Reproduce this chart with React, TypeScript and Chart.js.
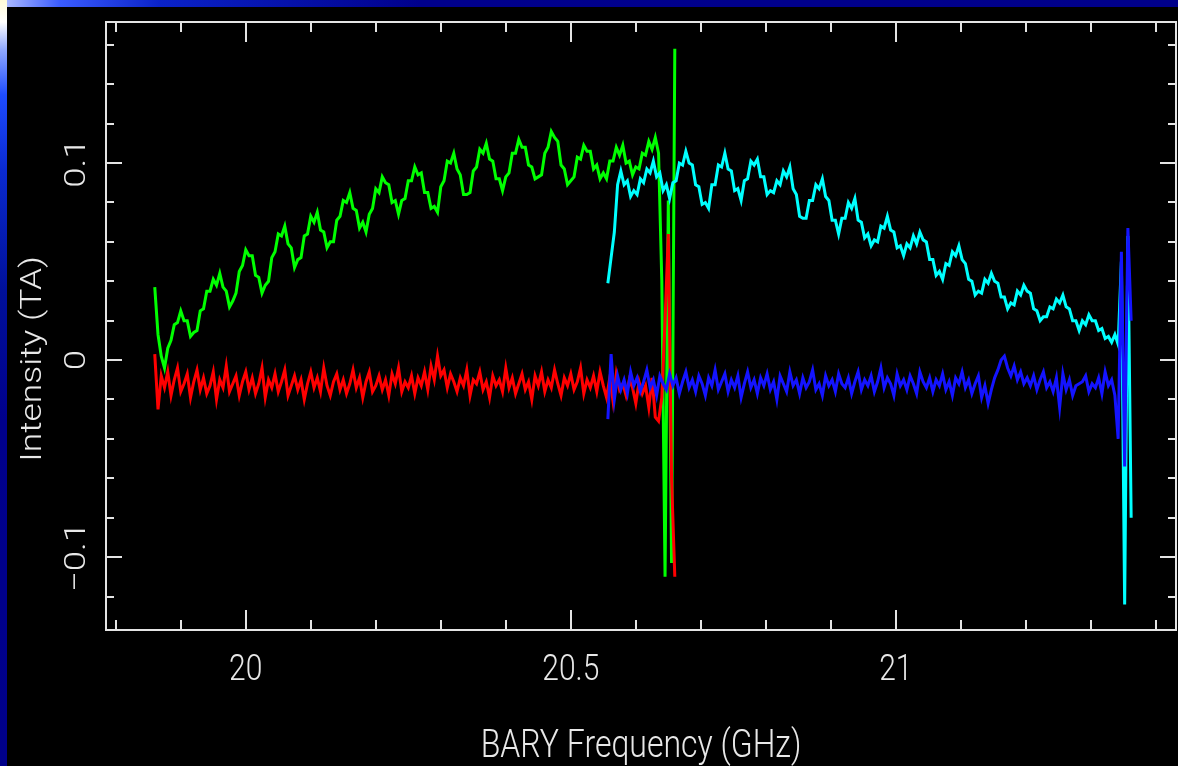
import React, { useEffect, useRef } from 'react';
import { Chart, registerables } from 'chart.js';

Chart.register(...registerables);

// ---- channel grids (GHz) ----
const LOW_BAND_START = 19.86; // first channel of the green / red spectra
const HIGH_BAND_START = 20.557; // first channel of the cyan / blue spectra
const CHANNEL_STEP = 0.005;

// ---- series values (TA) ----
const greenValues = [
  0.037, 0.013, 0.002, -0.004, 0.006, 0.010, 0.018, 0.019, 0.025, 0.020,
  0.020, 0.012, 0.014, 0.015, 0.025, 0.026, 0.035, 0.035, 0.041, 0.038,
  0.044, 0.037, 0.035, 0.027, 0.030, 0.034, 0.045, 0.048, 0.056, 0.053,
  0.053, 0.043, 0.042, 0.034, 0.038, 0.040, 0.052, 0.055, 0.064, 0.063,
  0.068, 0.059, 0.057, 0.047, 0.051, 0.052, 0.063, 0.064, 0.073, 0.070,
  0.075, 0.066, 0.065, 0.057, 0.060, 0.060, 0.071, 0.073, 0.081, 0.080,
  0.085, 0.077, 0.076, 0.067, 0.070, 0.065, 0.074, 0.077, 0.087, 0.085,
  0.093, 0.090, 0.089, 0.080, 0.081, 0.074, 0.081, 0.082, 0.091, 0.091,
  0.098, 0.094, 0.095, 0.085, 0.085, 0.077, 0.078, 0.075, 0.088, 0.091,
  0.101, 0.100, 0.105, 0.097, 0.094, 0.084, 0.084, 0.085, 0.096, 0.098,
  0.107, 0.105, 0.110, 0.102, 0.101, 0.092, 0.092, 0.086, 0.093, 0.095,
  0.105, 0.105, 0.112, 0.108, 0.108, 0.099, 0.098, 0.092, 0.093, 0.094,
  0.105, 0.108, 0.116, 0.113, 0.111, 0.099, 0.097, 0.089, 0.091, 0.093,
  0.103, 0.102, 0.109, 0.106, 0.106, 0.097, 0.099, 0.092, 0.095, 0.092,
  0.101, 0.101, 0.108, 0.104, 0.109, 0.100, 0.101, 0.094, 0.098, 0.097,
  0.105, 0.104, 0.111, 0.107, 0.113, 0.105, 0.040, -0.110, 0.081, -0.103,
  0.158,
];

const redValues = [
  0.003, -0.025, -0.008, -0.014, -0.006, -0.018, -0.010, -0.004, -0.016, -0.012,
  -0.007, -0.019, -0.011, -0.005, -0.015, -0.009, -0.017, -0.013, -0.006, -0.020,
  -0.010, -0.014, -0.003, -0.016, -0.012, -0.008, -0.018, -0.011, -0.006, -0.015,
  -0.009, -0.017, -0.012, -0.004, -0.019, -0.010, -0.014, -0.007, -0.016, -0.011,
  -0.005, -0.018, -0.013, -0.008, -0.015, -0.010, -0.020, -0.012, -0.006, -0.014,
  -0.009, -0.016, -0.004, -0.013, -0.018, -0.011, -0.007, -0.015, -0.010, -0.017,
  -0.012, -0.005, -0.014, -0.009, -0.019, -0.011, -0.006, -0.016, -0.013, -0.008,
  -0.015, -0.010, -0.018, -0.007, -0.012, -0.004, -0.016, -0.011, -0.014, -0.008,
  -0.017, -0.009, -0.013, -0.006, -0.015, -0.003, -0.010, 0.002, -0.008, -0.005,
  -0.014, -0.007, -0.011, -0.016, -0.009, -0.013, -0.005, -0.018, -0.010, -0.012,
  -0.006, -0.015, -0.011, -0.019, -0.008, -0.013, -0.010, -0.016, -0.004, -0.014,
  -0.009, -0.017, -0.012, -0.007, -0.015, -0.011, -0.020, -0.008, -0.013, -0.006,
  -0.016, -0.010, -0.014, -0.005, -0.012, -0.018, -0.009, -0.013, -0.007, -0.015,
  -0.011, -0.004, -0.017, -0.010, -0.014, -0.008, -0.016, -0.006, -0.013, -0.019,
  -0.009, -0.021, -0.007, -0.015, -0.012, -0.018, -0.010, -0.014, -0.022, -0.011,
  -0.017, -0.013, -0.024, -0.009, -0.029, -0.031, -0.019, 0.020, 0.064, -0.060,
  -0.110,
];

const cyanValues = [
  0.039, 0.052, 0.065, 0.089, 0.096, 0.089, 0.091, 0.083, 0.086, 0.084,
  0.092, 0.090, 0.097, 0.095, 0.101, 0.093, 0.095, 0.086, 0.089, 0.082,
  0.090, 0.091, 0.100, 0.099, 0.106, 0.100, 0.099, 0.089, 0.088, 0.079,
  0.080, 0.077, 0.089, 0.089, 0.099, 0.098, 0.105, 0.097, 0.096, 0.086,
  0.087, 0.081, 0.091, 0.092, 0.101, 0.099, 0.102, 0.093, 0.093, 0.084,
  0.086, 0.085, 0.091, 0.089, 0.096, 0.093, 0.098, 0.087, 0.084, 0.073,
  0.072, 0.072, 0.081, 0.081, 0.089, 0.087, 0.092, 0.083, 0.081, 0.071,
  0.071, 0.064, 0.072, 0.072, 0.080, 0.077, 0.082, 0.071, 0.070, 0.062,
  0.064, 0.058, 0.061, 0.060, 0.068, 0.067, 0.073, 0.066, 0.065, 0.057,
  0.058, 0.053, 0.059, 0.057, 0.063, 0.059, 0.065, 0.061, 0.060, 0.051,
  0.051, 0.043, 0.045, 0.041, 0.049, 0.048, 0.055, 0.053, 0.058, 0.051,
  0.049, 0.041, 0.040, 0.033, 0.035, 0.034, 0.041, 0.039, 0.044, 0.040,
  0.039, 0.032, 0.032, 0.026, 0.029, 0.028, 0.035, 0.033, 0.038, 0.035,
  0.034, 0.026, 0.025, 0.020, 0.022, 0.022, 0.027, 0.026, 0.031, 0.029,
  0.033, 0.027, 0.026, 0.020, 0.020, 0.015, 0.020, 0.018, 0.023, 0.020,
  0.020, 0.015, 0.016, 0.011, 0.012, 0.009, 0.013, 0.008, 0.050, -0.124,
  0.063, -0.080,
];

const blueValues = [
  -0.030, 0.003, -0.020, -0.008, -0.015, -0.010, -0.017, -0.006, -0.013, -0.009,
  -0.016, -0.011, -0.005, -0.014, -0.010, -0.018, -0.008, -0.012, -0.015, -0.007,
  -0.013, -0.009, -0.017, -0.011, -0.006, -0.014, -0.010, -0.016, -0.008, -0.012,
  -0.018, -0.009, -0.013, -0.005, -0.015, -0.011, -0.007, -0.016, -0.010, -0.014,
  -0.008, -0.019, -0.012, -0.006, -0.014, -0.010, -0.017, -0.009, -0.013, -0.007,
  -0.015, -0.011, -0.020, -0.008, -0.012, -0.016, -0.006, -0.013, -0.010, -0.017,
  -0.009, -0.014, -0.011, -0.005, -0.015, -0.012, -0.018, -0.008, -0.013, -0.010,
  -0.016, -0.007, -0.012, -0.014, -0.009, -0.017, -0.011, -0.006, -0.015, -0.010,
  -0.013, -0.008, -0.016, -0.011, -0.004, -0.014, -0.009, -0.012, -0.018, -0.007,
  -0.013, -0.010, -0.015, -0.008, -0.012, -0.017, -0.006, -0.011, -0.014, -0.009,
  -0.016, -0.010, -0.013, -0.007, -0.015, -0.011, -0.018, -0.009, -0.012, -0.006,
  -0.014, -0.010, -0.017, -0.012, -0.008, -0.019, -0.013, -0.022, -0.015, -0.009,
  -0.005, 0.000, 0.002, -0.004, -0.008, -0.003, -0.010, -0.006, -0.012, -0.009,
  -0.013, -0.008, -0.015, -0.010, -0.006, -0.014, -0.011, -0.016, -0.009, -0.024,
  -0.007, -0.015, -0.010, -0.018, -0.013, -0.012, -0.011, -0.008, -0.016, -0.012,
  -0.014, -0.009, -0.017, -0.006, -0.013, -0.010, -0.018, -0.040, 0.055, -0.054,
  0.067, 0.020,
];

// ---- axes ----
const X_MIN = 19.785;
const X_MAX = 21.431;
const Y_MIN = -0.137;
const Y_MAX = 0.1716;

const xMajorTicks = [20, 20.5, 21];
const xMajorLabels = ['20', '20.5', '21'];
const xMinorTicks = [19.8, 19.9, 20.1, 20.2, 20.3, 20.4, 20.6, 20.7, 20.8, 20.9, 21.1, 21.2, 21.3, 21.4];
const yMajorTicks = [-0.1, 0, 0.1];
const yMajorLabels = ['\u22120.1', '0', '0.1'];
const yMinorTicks = [-0.12, -0.08, -0.06, -0.04, -0.02, 0.02, 0.04, 0.06, 0.08, 0.12, 0.14, 0.16];

const xTitle = 'BARY Frequency (GHz)';
const yTitle = 'Intensity (TA)';

const FRAME_COLOR = '#e4e4e4';
const TEXT_COLOR = '#e8e8e8';
const FONT_FAMILY = 'Roboto, "Liberation Sans", "DejaVu Sans", sans-serif';
const STRETCH = 1.22;

function toPoints(start: number, values: number[]) {
  return values.map((y, i) => ({ x: start + i * CHANNEL_STEP, y }));
}

function drawText(
  ctx: CanvasRenderingContext2D,
  text: string,
  x: number,
  y: number,
  size: number,
  rotated: boolean,
) {
  ctx.save();
  ctx.translate(x, y);
  ctx.scale(1, STRETCH);
  if (rotated) ctx.rotate(-Math.PI / 2);
  ctx.font = `300 ${size}px ${FONT_FAMILY}`;
  ctx.textAlign = 'center';
  ctx.textBaseline = 'alphabetic';
  ctx.fillStyle = TEXT_COLOR;
  ctx.fillText(text, 0, 0);
  ctx.restore();
}

const framePlugin = {
  id: 'pgplotFrame',
  afterDatasetsDraw(chart: any) {
    const { ctx, chartArea: a, scales } = chart;
    const xs = scales.x;
    const ys = scales.y;
    ctx.save();
    ctx.strokeStyle = FRAME_COLOR;
    ctx.lineWidth = 2;
    ctx.strokeRect(a.left, a.top, a.right - a.left, a.bottom - a.top);
    ctx.beginPath();
    const seg = (x1: number, y1: number, x2: number, y2: number) => {
      ctx.moveTo(x1, y1);
      ctx.lineTo(x2, y2);
    };
    const xTick = (v: number, len: number) => {
      const x = Math.round(xs.getPixelForValue(v));
      seg(x, a.bottom, x, a.bottom - len);
      seg(x, a.top, x, a.top + len);
    };
    const yTick = (v: number, len: number) => {
      const y = Math.round(ys.getPixelForValue(v));
      seg(a.left, y, a.left + len, y);
      seg(a.right, y, a.right - len, y);
    };
    xMinorTicks.forEach((v) => xTick(v, 10));
    xMajorTicks.forEach((v) => xTick(v, 20));
    yMinorTicks.forEach((v) => yTick(v, 8));
    yMajorTicks.forEach((v) => yTick(v, 16));
    ctx.stroke();

    xMajorTicks.forEach((v, i) => {
      drawText(ctx, xMajorLabels[i], xs.getPixelForValue(v), 680, 30, false);
    });
    yMajorTicks.forEach((v, i) => {
      drawText(ctx, yMajorLabels[i], 85, ys.getPixelForValue(v), 30, true);
    });
    drawText(ctx, xTitle, (a.left + a.right) / 2, 757, 32, false);
    drawText(ctx, yTitle, 41, 359, 29, true);
    ctx.restore();
  },
};

export default function App() {
  const canvasRef = useRef<HTMLCanvasElement>(null);

  useEffect(() => {
    const canvas = canvasRef.current;
    if (!canvas) return;
    const line = (label: string, color: string, start: number, values: number[]) => ({
      label,
      data: toPoints(start, values),
      borderColor: color,
      backgroundColor: color,
      borderWidth: 3,
      pointRadius: 0,
      tension: 0,
      fill: false,
    });
    const chart = new Chart(canvas, {
      type: 'line',
      data: {
        datasets: [
          line('blue', '#1414ff', HIGH_BAND_START, blueValues),
          line('red', '#ff0000', LOW_BAND_START, redValues),
          line('cyan', '#00ffff', HIGH_BAND_START, cyanValues),
          line('green', '#00ff00', LOW_BAND_START, greenValues),
        ],
      },
      options: {
        responsive: false,
        animation: false,
        devicePixelRatio: 1,
        events: [],
        layout: { padding: { left: 106, right: 2, top: 22, bottom: 136 } },
        plugins: {
          legend: { display: false },
          tooltip: { enabled: false },
        },
        scales: {
          x: { type: 'linear', min: X_MIN, max: X_MAX, display: false },
          y: { type: 'linear', min: Y_MIN, max: Y_MAX, display: false },
        },
      },
      plugins: [framePlugin],
    } as any);
    return () => chart.destroy();
  }, []);

  return (
    <div
      style={{
        position: 'fixed',
        left: 0,
        top: 0,
        width: 1178,
        height: 766,
        background: '#000',
        overflow: 'hidden',
      }}
    >
      <canvas
        ref={canvasRef}
        width={1178}
        height={766}
        style={{ position: 'absolute', left: 0, top: 0, width: 1178, height: 766 }}
      />
      <div
        style={{
          position: 'absolute',
          left: 0,
          top: 0,
          width: 1178,
          height: 7,
          background:
            'linear-gradient(to right, #b8c4ff 0px, #3a5cff 60px, #0a22c8 160px, #00008c 420px, #00008a 100%)',
        }}
      />
      <div
        style={{
          position: 'absolute',
          left: 0,
          top: 0,
          width: 7,
          height: 766,
          background:
            'linear-gradient(to bottom, #fffbd8 0px, #ffffff 22px, #8fa8ff 50px, #1e4cff 95px, #0a2ad0 170px, #00109a 290px, #00008c 420px, #00008a 100%)',
        }}
      />
    </div>
  );
}
